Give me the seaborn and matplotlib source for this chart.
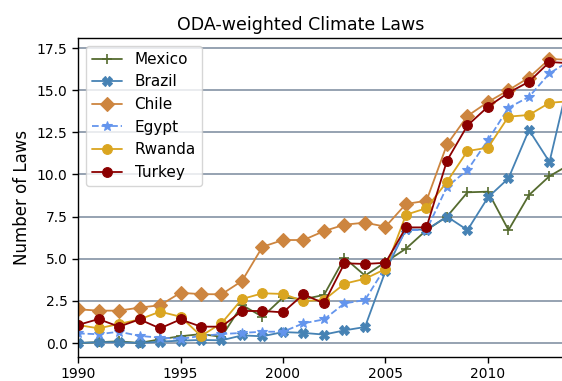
import matplotlib
matplotlib.use("Agg")
import matplotlib.pyplot as plt
import seaborn as sns

years = list(range(1990, 2015))

mexico = [0.0, 0.05, 0.1, 0.0, 0.22, 0.4, 0.53, 0.37, 2.25, 1.56, 2.7, 2.6, 2.85, 5.05,
          4.0, 4.8, 5.6, 6.7, 7.5, 8.94, 8.98, 6.7, 8.78, 9.9, 10.6]
brazil = [0.0, 0.05, 0.05, 0.0, 0.08, 0.14, 0.18, 0.16, 0.45, 0.4, 0.65, 0.6, 0.5, 0.75,
          0.95, 4.27, 6.74, 6.72, 7.5, 6.7, 8.64, 9.77, 12.64, 10.74, 15.9]
chile = [2.0, 1.92, 1.92, 2.1, 2.24, 2.98, 2.9, 2.89, 3.68, 5.71, 6.11, 6.11, 6.64, 7.02,
         7.14, 6.9, 8.25, 8.44, 11.78, 13.47, 14.3, 15.0, 15.75, 16.85, 16.8]
egypt = [0.57, 0.52, 0.67, 0.42, 0.32, 0.24, 0.42, 0.53, 0.6, 0.67, 0.67, 1.17, 1.4, 2.35,
         2.55, 4.5, 6.7, 6.7, 9.27, 10.26, 12.04, 13.96, 14.6, 16.0, 16.75]
rwanda = [1.07, 0.87, 1.13, 1.4, 1.86, 1.56, 0.42, 1.17, 2.61, 2.95, 2.91, 2.49, 2.55, 3.52,
          3.81, 4.39, 7.61, 8.0, 9.57, 11.39, 11.59, 13.43, 13.53, 14.25, 14.35]
turkey = [1.07, 1.42, 0.97, 1.4, 0.87, 1.4, 0.97, 0.97, 1.9, 1.9, 1.82, 2.89, 2.35, 4.73,
          4.69, 4.76, 6.86, 6.86, 10.82, 12.91, 14.02, 14.85, 15.5, 16.67, 16.6]

countries = ["Mexico", "Brazil", "Chile", "Egypt", "Rwanda", "Turkey"]
series = [mexico, brazil, chile, egypt, rwanda, turkey]
colors = ["#556B2F", "#4682B4", "#CD853F", "#6495ED", "#DAA520", "#8B0000"]
markers = ["+", "X", "D", "*", "o", "o"]
styles = ["-", "-", "-", "--", "-", "-"]

sns.set_style("white")
plt.rcParams["text.color"] = "black"
plt.rcParams["axes.labelcolor"] = "black"

fig = plt.figure(figsize=(5.62, 3.81), dpi=100)
ax = fig.add_axes([0.1388, 0.063, 0.8754, 0.837])

for name, vals, c, m, ls in zip(countries, series, colors, markers, styles):
    sns.lineplot(x=years, y=vals, ax=ax, color=c, marker=m, linestyle=ls,
                 markeredgecolor=c, markeredgewidth=1.2 if m == "+" else 0.8,
                 markersize=7, linewidth=1.3, label=name)

ax.set_xlim(1990, 2014)
ax.set_ylim(-0.83, 18.09)
ax.set_xticks([1990, 1995, 2000, 2005, 2010])
ax.set_yticks([0, 2.5, 5, 7.5, 10, 12.5, 15, 17.5])
ax.set_yticklabels([f"{v:.1f}" for v in [0, 2.5, 5, 7.5, 10, 12.5, 15, 17.5]])
ax.yaxis.grid(True, color="#8e9bab", linewidth=1.3)
ax.set_axisbelow(True)
ax.tick_params(axis="both", direction="out", length=4, width=1, labelsize=10,
               bottom=True, left=True, colors="black")
for s in ax.spines.values():
    s.set_color("black")
    s.set_linewidth(1)

ax.set_xlabel("")
ax.set_ylabel("Number of Laws", fontsize=12, color="black")
ax.set_title("ODA-weighted Climate Laws", fontsize=12.5, x=0.453, color="black")
leg = ax.legend(loc="upper left", fontsize=11, frameon=True, borderaxespad=0.5)
for t in leg.get_texts():
    t.set_color("black")

fig.savefig("out.png", dpi=100)
